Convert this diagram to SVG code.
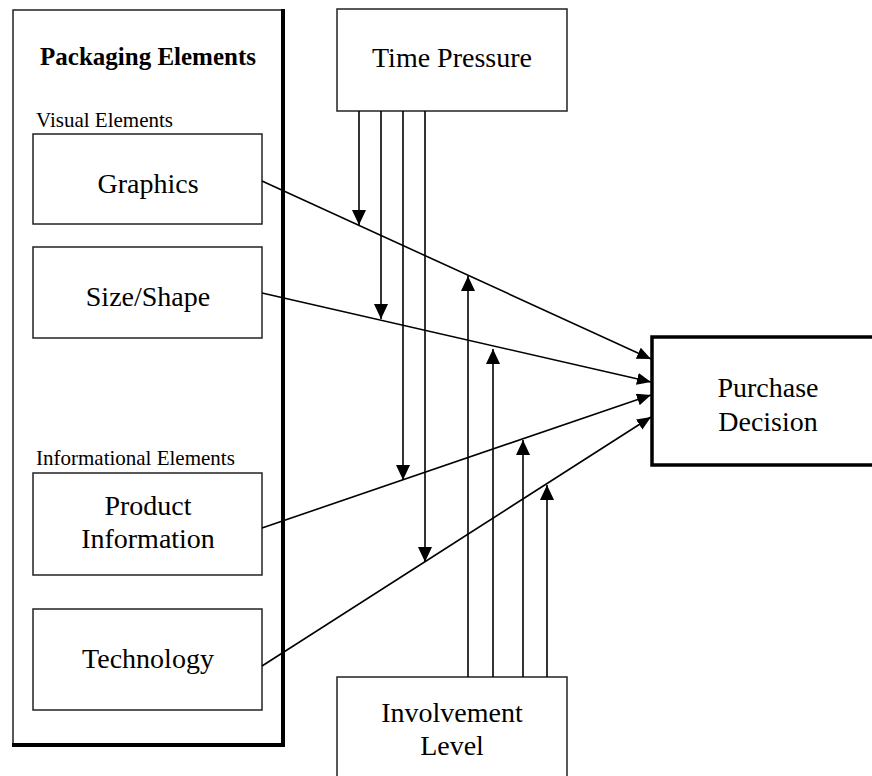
<svg xmlns="http://www.w3.org/2000/svg" width="872" height="776" viewBox="0 0 872 776">
<style>
text{font-family:"Liberation Serif","Times New Roman",serif;fill:#000}
.big{font-size:28px;text-anchor:middle}
.sub{font-size:21px}
.bold{font-size:25px;font-weight:bold;text-anchor:middle}
.box{fill:none;stroke:#222;stroke-width:1.5}
.conn{stroke:#000;stroke-width:1.6;fill:none}
</style>
<defs>
<marker id="ah" markerWidth="14" markerHeight="12" refX="14" refY="6" orient="auto" markerUnits="userSpaceOnUse">
<path d="M0,0 L14,6 L0,12 Z" fill="#000"/>
</marker>
<marker id="av" markerWidth="15" markerHeight="14" refX="15" refY="7" orient="auto" markerUnits="userSpaceOnUse">
<path d="M0,0 L15,7 L0,14 Z" fill="#000"/>
</marker>
</defs>
<rect width="872" height="776" fill="#fff"/>

<g id="packaging">
<rect class="box" x="13" y="10" width="270" height="735"/>
<line x1="283" y1="9" x2="283" y2="747" stroke="#000" stroke-width="4"/>
<line x1="12" y1="745" x2="285" y2="745" stroke="#000" stroke-width="4"/>
<text class="bold" x="148" y="65">Packaging Elements</text>
<text class="sub" x="36" y="127">Visual Elements</text>
<text class="sub" x="36" y="465">Informational Elements</text>
</g>

<g id="graphics">
<rect class="box" x="33" y="134" width="229" height="90"/>
<text class="big" x="148" y="193">Graphics</text>
</g>

<g id="sizeshape">
<rect class="box" x="33" y="247" width="229" height="91"/>
<text class="big" x="148" y="306">Size/Shape</text>
</g>

<g id="productinfo">
<rect class="box" x="33" y="473" width="229" height="102"/>
<text class="big" x="148" y="515">Product</text>
<text class="big" x="148" y="548">Information</text>
</g>

<g id="technology">
<rect class="box" x="33" y="609" width="229" height="101"/>
<text class="big" x="148" y="668">Technology</text>
</g>

<g id="timepressure">
<rect class="box" x="337" y="9" width="230" height="102"/>
<text class="big" x="452" y="67">Time Pressure</text>
</g>

<g id="involvement">
<rect class="box" x="337" y="677" width="230" height="120"/>
<text class="big" x="452" y="722">Involvement</text>
<text class="big" x="452" y="755">Level</text>
</g>

<g id="purchase">
<rect x="652" y="337" width="240" height="128" fill="none" stroke="#000" stroke-width="3.5"/>
<text class="big" x="768" y="397">Purchase</text>
<text class="big" x="768" y="431">Decision</text>
</g>

<g id="connectors">
<line class="conn" x1="262" y1="181" x2="651" y2="359" marker-end="url(#ah)"/>
<line class="conn" x1="262" y1="293" x2="651" y2="382" marker-end="url(#ah)"/>
<line class="conn" x1="262" y1="528" x2="651" y2="395" marker-end="url(#ah)"/>
<line class="conn" x1="262" y1="666" x2="651" y2="417" marker-end="url(#ah)"/>

<line class="conn" x1="359" y1="111" x2="359" y2="225" marker-end="url(#av)"/>
<line class="conn" x1="381" y1="111" x2="381" y2="319" marker-end="url(#av)"/>
<line class="conn" x1="403" y1="111" x2="403" y2="480" marker-end="url(#av)"/>
<line class="conn" x1="425" y1="111" x2="425" y2="562" marker-end="url(#av)"/>

<line class="conn" x1="468" y1="677" x2="468" y2="276" marker-end="url(#av)"/>
<line class="conn" x1="493" y1="677" x2="493" y2="349" marker-end="url(#av)"/>
<line class="conn" x1="523" y1="677" x2="523" y2="440" marker-end="url(#av)"/>
<line class="conn" x1="547" y1="677" x2="547" y2="485" marker-end="url(#av)"/>
</g>
</svg>
